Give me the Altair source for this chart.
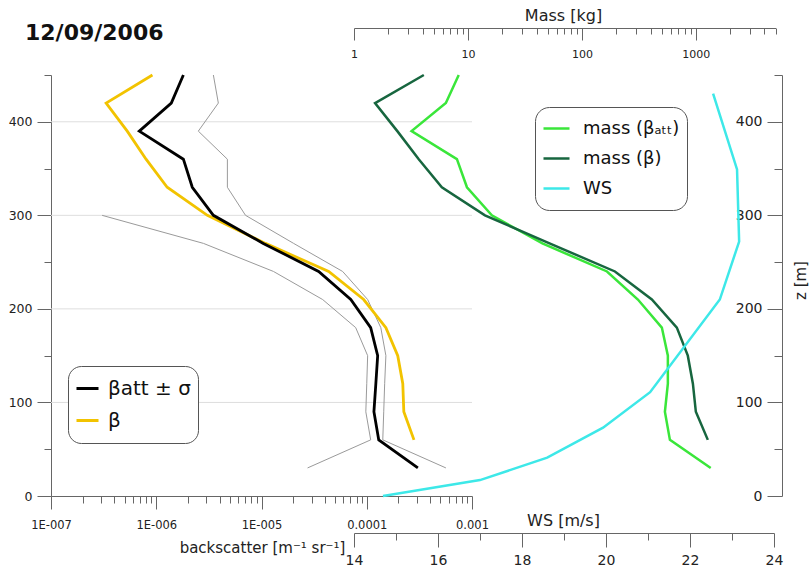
import altair as alt
import pandas as pd

# ---------------- data ----------------
title_text = "12/09/2006"

# backscatter profiles (m^-1 sr^-1) versus height z (m)
z_bs = [30, 60, 90, 120, 150, 180, 210, 240, 270, 300, 330, 360, 390, 420, 450]
beta_att = [3.06e-4, 1.30e-4, 1.17e-4, 1.22e-4, 1.27e-4, 1.09e-4, 7.05e-5, 3.49e-5,
            1.04e-5, 3.49e-6, 2.20e-6, 1.81e-6, 6.9e-7, 1.39e-6, 1.81e-6]
z_beta = [60, 90, 120, 150, 180, 210, 240, 270, 300, 330, 360, 390, 420, 450]
beta = [2.81e-4, 2.25e-4, 2.20e-4, 1.97e-4, 1.52e-4, 9.35e-5, 4.35e-5, 1.09e-5,
        3.06e-6, 1.27e-6, 8.0e-7, 5.3e-7, 3.34e-7, 9.2e-7]
sigma_hi = [5.65e-4, 1.42e-4, 1.45e-4, 1.48e-4, 1.52e-4, 1.36e-4, 1.02e-4, 5.9e-5,
            2.02e-5, 7.05e-6, 4.74e-6, 4.74e-6, 2.51e-6, 3.89e-6, 3.49e-6]
z_sigma_lo = [30, 60, 90, 120, 150, 180, 210, 240, 270, 300]
sigma_lo = [2.74e-5, 1.09e-4, 9.8e-5, 1.0e-4, 1.02e-4, 7.85e-5, 3.81e-5, 1.30e-5,
            2.81e-6, 3.06e-7]

# mass (kg)
mass_att = [1350, 592, 535, 568, 568, 503, 310, 166, 45, 16.2, 9.8, 8.0, 3.2, 6.4, 8.3]
mass_beta = [1274, 1000, 942, 850, 681, 411, 195, 52, 14.1, 5.9, 3.7, 2.4, 1.53, 4.1]

# wind speed (m/s)
z_ws = [0, 17, 41, 73, 111, 210, 272, 349, 430]
ws = [14.69, 17.0, 18.6, 19.93, 21.05, 22.71, 23.17, 23.12, 22.55]

# series names
left_series = ["\u03b2att \u00b1 \u03c3", "\u03b2"]
right_series = ["mass (\u03b2\u2090\u209c\u209c)", "mass (\u03b2)", "WS"]
left_colors = ["#000000", "#F2C300"]
right_colors = ["#3AE63A", "#17663F", "#3DE8E8"]
sigma_color = "#9a9a9a"

# axis ticks and labels
z_major = [0, 100, 200, 300, 400]
z_minor = [50, 150, 250, 350, 450]
grid_z = [100, 200, 300, 400]
bs_major = [1e-7, 1e-6, 1e-5, 1e-4, 1e-3]
bs_labels = ["1E-007", "1E-006", "1E-005", "0.0001", "0.001"]
bs_minor = [m * d for d in [1e-7, 1e-6, 1e-5, 1e-4] for m in range(2, 10)]
mass_major = [1, 10, 100, 1000]
mass_labels = ["1", "10", "100", "1000"]
mass_minor = [m * d for d in [1, 10, 100] for m in range(2, 10)] + [2000, 3000, 4000, 5000]
ws_major = [14, 16, 18, 20, 22, 24]
ws_minor = [15, 17, 19, 21, 23]

# ---------------- tables ----------------
df_beta = pd.concat([
    pd.DataFrame({"z": z_beta, "v": beta, "s": left_series[1]}),
    pd.DataFrame({"z": z_bs, "v": beta_att, "s": left_series[0]}),
])
df_sigma = pd.concat([
    pd.DataFrame({"z": z_bs, "v": sigma_hi, "side": "hi"}),
    pd.DataFrame({"z": z_sigma_lo, "v": sigma_lo, "side": "lo"}),
])
df_mass_att = pd.DataFrame({"z": z_bs, "m": mass_att, "s": right_series[0]})
df_mass_beta = pd.DataFrame({"z": z_beta, "m": mass_beta, "s": right_series[1]})
df_ws = pd.DataFrame({"z": z_ws, "w": ws, "s": right_series[2]})
df_grid = pd.DataFrame({"z": grid_z})
df_title = pd.DataFrame({"t": [title_text]})

# ---------------- layout constants ----------------
W, H = 731, 421
FONT = "DejaVu Sans"
AXC = "#666666"
TXT = "#222222"
common = dict(domainColor=AXC, tickColor=AXC, labelColor=TXT, titleColor=TXT, grid=False,
              titleFontWeight="normal", labelFont=FONT, titleFont=FONT,
              labelFlush=False, labelOverlap=False)


def label_expr(values, labels):
    expr = "''"
    for v, lab in reversed(list(zip(values, labels))):
        expr = f"(abs(datum.value - {v}) < {v * 0.01}) ? '{lab}' : {expr}"
    return expr


bs_scale = alt.Scale(type="log", domain=[1e-7, 1e-3], range=[0, 421], nice=False)
mass_scale = alt.Scale(type="log", domain=[1, 5000], range=[303, 724.5], nice=False)
ws_scale = alt.Scale(domain=[14, 24], range=[303, 723], nice=False, zero=False)
z_scale = alt.Scale(domain=[0, 450], nice=False, zero=False)

minor_x = dict(labels=False, domain=False, title=None, tickColor=AXC, grid=False)

# ---------------- axes ----------------
ax_bs_major = alt.Axis(orient="bottom", values=bs_major, labelExpr=label_expr(bs_major, bs_labels),
                       tickSize=13, labelFontSize=11.5, labelPadding=10,
                       title="backscatter [m\u207b\u00b9 sr\u207b\u00b9]", titleFontSize=15,
                       titleX=211, titleY=51, titleAlign="center", titleBaseline="middle", **common)
ax_bs_minor = alt.Axis(orient="bottom", values=bs_minor, tickSize=7, **minor_x)
ax_zl_major = alt.Axis(orient="left", values=z_major, tickSize=14, labelFontSize=12.5,
                       labelPadding=5, title=None, **common)
ax_zl_minor = alt.Axis(orient="left", values=z_minor, tickSize=7, **minor_x)
ax_mass_major = alt.Axis(orient="bottom", offset=-468, values=mass_major,
                         labelExpr=label_expr(mass_major, mass_labels),
                         tickSize=12, labelFontSize=11, labelPadding=8,
                         title="Mass [kg]", titleFontSize=16, titleX=512, titleY=-13,
                         titleAlign="center", titleBaseline="middle", **common)
ax_mass_minor = alt.Axis(orient="bottom", offset=-468, values=mass_minor, tickSize=6, **minor_x)
ax_zr_major = alt.Axis(orient="left", offset=-W, values=z_major, tickSize=15, labelFontSize=14,
                       labelPadding=5, title="z [m]", titleFontSize=15, titleX=18, titleY=205,
                       titleAngle=270, titleAlign="center", titleBaseline="middle", **common)
ax_zr_minor = alt.Axis(orient="left", offset=-W, values=z_minor, tickSize=8, **minor_x)
ax_ws_major = alt.Axis(orient="bottom", offset=37, values=ws_major, tickSize=14, labelFontSize=14,
                       labelPadding=6, format="d",
                       title="WS [m/s]", titleFontSize=16, titleX=512, titleY=-13,
                       titleAlign="center", titleBaseline="middle", **common)
ax_ws_minor = alt.Axis(orient="bottom", offset=37, values=ws_minor, tickSize=7, **minor_x)

# ---------------- legends ----------------
leg_left = alt.Legend(orient="none", legendX=17, legendY=291, title=None, symbolType="stroke",
                      symbolSize=484, symbolStrokeWidth=3, labelFontSize=20, labelFont=FONT,
                      labelColor="#111111", fillColor="white", strokeColor="#555555",
                      cornerRadius=13, padding=7, clipHeight=31, rowPadding=1, labelOffset=8)
leg_right = alt.Legend(orient="none", legendX=484, legendY=32, title=None, symbolType="stroke",
                       symbolSize=676, symbolStrokeWidth=2.5, labelFontSize=18, labelFont=FONT,
                       labelColor="#111111", fillColor="white", strokeColor="#555555",
                       cornerRadius=14, padding=7, clipHeight=29, rowPadding=1, labelOffset=12)

left_color = alt.Color("s:N", scale=alt.Scale(domain=left_series, range=left_colors), legend=leg_left)


def right_color():
    return alt.Color("s:N", scale=alt.Scale(domain=right_series, range=right_colors), legend=leg_right)


# ---------------- layers ----------------
grid = alt.Chart(df_grid).mark_rule(color="#dedede", strokeWidth=1).encode(
    y=alt.Y("z:Q", scale=z_scale, axis=None), x=alt.value(0), x2=alt.value(421))

sigma = alt.Chart(df_sigma).mark_line(color=sigma_color, strokeWidth=1).encode(
    x=alt.X("v:Q", scale=bs_scale, axis=ax_bs_minor),
    y=alt.Y("z:Q", scale=z_scale, axis=ax_zl_minor),
    detail="side:N", order="z:Q")

beta_lines = alt.Chart(df_beta).mark_line(strokeWidth=2.8).encode(
    x=alt.X("v:Q", scale=bs_scale, axis=ax_bs_major),
    y=alt.Y("z:Q", scale=z_scale, axis=ax_zl_major),
    color=left_color, order="z:Q")

mass_att_line = alt.Chart(df_mass_att).mark_line(strokeWidth=2.5).encode(
    x=alt.X("m:Q", scale=mass_scale, axis=ax_mass_major),
    y=alt.Y("z:Q", scale=z_scale, axis=ax_zr_major),
    color=right_color(), order="z:Q")

mass_beta_line = alt.Chart(df_mass_beta).mark_line(strokeWidth=2.5).encode(
    x=alt.X("m:Q", scale=mass_scale, axis=ax_mass_minor),
    y=alt.Y("z:Q", scale=z_scale, axis=ax_zr_minor),
    color=right_color(), order="z:Q")

ws_line = alt.Chart(df_ws).mark_line(strokeWidth=2.5).encode(
    x=alt.X("w:Q", scale=ws_scale, axis=ax_ws_major),
    y=alt.Y("z:Q", scale=z_scale, axis=None),
    color=right_color(), order="z:Q")

ws_ticks = alt.Chart(df_ws).mark_line(opacity=0).encode(
    x=alt.X("w:Q", scale=ws_scale, axis=ax_ws_minor),
    y=alt.Y("z:Q", scale=z_scale, axis=None),
    order="z:Q")

title = alt.Chart(df_title).mark_text(align="left", baseline="alphabetic", fontSize=22,
                                      fontWeight="bold", font=FONT, color="#111111").encode(
    text="t:N", x=alt.value(-26), y=alt.value(-35))

right = alt.layer(mass_att_line, mass_beta_line, ws_line, ws_ticks).resolve_scale(
    x="independent", y="independent")

chart = alt.layer(grid, sigma, beta_lines, right, title).resolve_scale(
    x="independent", y="independent", color="independent"
).properties(
    width=W, height=H,
    autosize=alt.AutoSizeParams(type="none"),
    padding={"left": 51, "top": 75, "right": 27, "bottom": 76},
).configure(font=FONT).configure_view(stroke=None)

chart.save("out.html", embed_options={"renderer": "svg", "actions": False})
